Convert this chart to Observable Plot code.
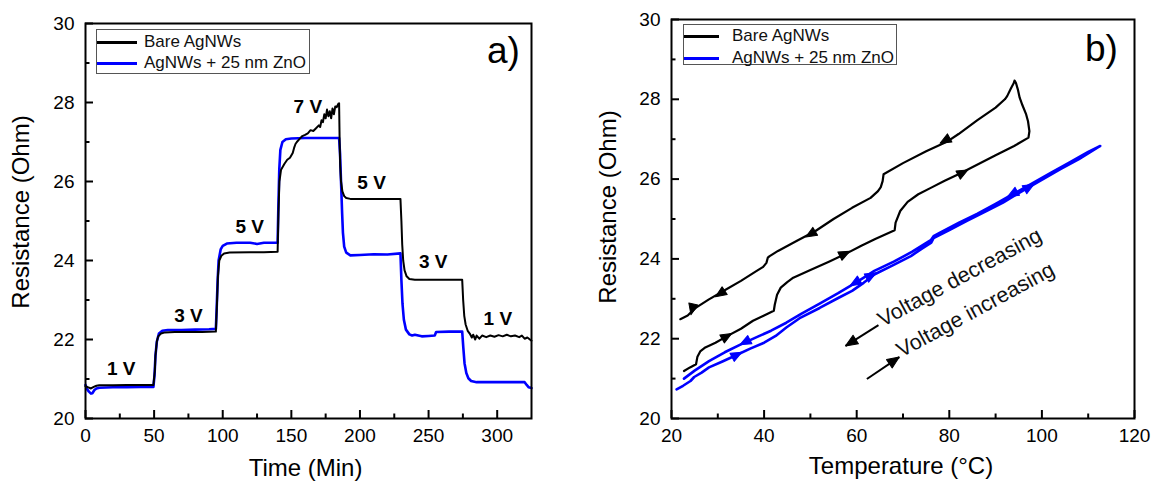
<!DOCTYPE html>
<html><head><meta charset="utf-8">
<script src="https://cdn.jsdelivr.net/npm/d3@7"></script>
<script src="https://cdn.jsdelivr.net/npm/@observablehq/plot@0.6"></script>
<style>
body{margin:0;background:#fff;}
#wrap{position:relative;width:1156px;height:486px;overflow:hidden;font-family:"Liberation Sans",Arial,sans-serif;}
#wrap svg{position:absolute;top:0;}
.legend{position:absolute;border:1px solid #555;background:#fff;box-sizing:border-box;}
.row{position:absolute;left:0;height:20px;display:flex;align-items:center;font-size:17px;white-space:nowrap;color:#111;}
.sw{display:inline-block;height:3px;}
</style></head><body><div id="wrap"></div>
<script>
// ---------- Panel a) : resistance vs time ----------
const seriesNames = ["Bare AgNWs", "AgNWs + 25 nm ZnO"];
const seriesColors = ["#000000", "#0000ff"];

const bareTime = [0,2,4,6,8,10,15,20,30,40,49.5,
  50.5,51,52,53,55,58,65,75,85,95,
  95.8,96.5,97.5,99,101,105,120,130,140,
  140.6,141.3,142.5,145,147,149,151,152,153,154,156,158,160,162,164,166,168,170,171,172,173,174,175,176,177,178,179,180,181,182,183,184.3,184.8,
  185.2,185.6,186.2,187.2,188.5,190,193,200,210,220,229.5,
  230.2,230.8,231.5,232.5,234,236,240,250,260,274.5,
  275.2,276,277,278.5,280,281.5,282.5,284,285,287,289,292,295,298,301,304,307,310,313,316,318,320,322,325];
const bareRes = [20.82,20.79,20.76,20.8,20.83,20.84,20.84,20.84,20.85,20.85,20.85,
  21.2,21.6,21.95,22.08,22.15,22.18,22.19,22.19,22.19,22.2,
  22.9,23.6,24.0,24.12,24.18,24.2,24.21,24.21,24.22,
  25.2,26.0,26.3,26.45,26.55,26.6,26.72,26.85,26.95,27.0,27.08,27.15,27.18,27.22,27.3,27.28,27.35,27.42,27.38,27.55,27.5,27.7,27.6,27.82,27.65,27.78,27.6,27.85,27.7,27.9,27.88,27.97,27.98,
  27.0,26.4,26.0,25.75,25.63,25.58,25.56,25.56,25.56,25.56,25.56,
  25.0,24.4,24.0,23.75,23.6,23.53,23.51,23.51,23.51,23.51,
  23.0,22.6,22.38,22.22,22.15,22.05,22.12,22.0,22.1,22.02,22.1,22.06,22.1,22.07,22.11,22.08,22.12,22.08,22.1,22.06,22.1,22.02,22.05,21.97];

const znoTime = [0,1,2.5,4,5,6.5,8,10,20,30,40,49.5,
  50.3,51,52,53.5,56,60,70,80,90,95,
  95.6,96.3,97,98.5,100,103,110,120,125,130,140,
  140.5,141.2,142,143.5,146,150,160,170,180,184.8,
  185.5,186.2,187,187.6,188.5,190,193,200,210,220,229.5,
  230.2,231,232,233.5,236,238,240,245,250,254.5,255.5,265,274.5,
  275.3,276.2,277.5,279,281,285,295,310,320,321.5,323,325];
const znoRes = [20.85,20.75,20.68,20.63,20.64,20.72,20.76,20.78,20.79,20.79,20.8,20.8,
  21.1,21.6,21.95,22.15,22.22,22.24,22.24,22.25,22.26,22.27,
  22.8,23.5,24.0,24.28,24.37,24.43,24.45,24.45,24.42,24.45,24.45,
  25.3,26.3,26.8,27.0,27.07,27.09,27.1,27.1,27.1,27.1,
  26.7,26.0,25.2,24.7,24.35,24.2,24.13,24.14,24.16,24.15,24.18,
  23.5,22.9,22.5,22.25,22.13,22.1,22.12,22.08,22.09,22.1,22.19,22.2,22.2,
  21.8,21.4,21.15,21.02,20.95,20.92,20.92,20.92,20.92,20.85,20.79,20.77];

const voltLabels = ["1 V","3 V","5 V","7 V","5 V","3 V","1 V"];
const voltTime   = [26, 75, 119.7, 162, 208.5, 253.4, 300.5];
const voltRes    = [21.25, 22.6, 24.84, 27.89, 25.97, 23.97, 22.51];

const timeTicks = [0,50,100,150,200,250,300];
const timeMinor = [25,75,125,175,225,275];
const resTicks = [20,22,24,26,28,30];
const resMinor = [21,23,25,27,29];

// ---------- Panel b) : resistance vs temperature ----------
const bareTemp = [22.7,24.0,25.3,25.6,26.2,27.3,29.5,32.1,35,37.6,40,42.1,42.3,42.8,43.6,45,46.3,50,54,57.5,61,64,68.2,68.4,69.4,71,73.3,76,79,82.1,86,90,94,97.1,
  97.3,97.0,96.6,95.8,95.2,94.8,94.4,94.1,93.9,
  93.3,92.5,92,90,86,82,79.7,75,70,65.8,65.6,65.2,64.6,63,59,55,51.1,47,43,41.2,40.8,40.5,39.8,38.4,35,31.3,28,25.3,24.1,23.5,21.9];
const bareResT = [21.19,21.28,21.36,21.55,21.68,21.78,21.9,22.07,22.25,22.45,22.58,22.7,22.85,23.1,23.28,23.42,23.53,23.72,23.93,24.12,24.33,24.5,24.72,24.91,25.2,25.43,25.62,25.78,25.96,26.13,26.36,26.6,26.83,27.04,
  27.2,27.45,27.62,27.85,28.04,28.25,28.41,28.47,28.4,
  28.27,28.08,28.0,27.79,27.47,27.13,26.95,26.7,26.4,26.12,25.95,25.8,25.7,25.53,25.28,25.0,24.7,24.45,24.2,24.07,24.03,23.9,23.8,23.7,23.45,23.2,22.98,22.78,22.65,22.58,22.49];

const znoTemp = [21.1,22.5,24.1,24.9,26.5,28.1,31,34.4,37,40,42.5,44.8,47.9,52,56,59,61.5,63.8,68,71.7,74,76.1,76.6,80,83.7,88,91.6,95,99.5,104,108,112.6,
  110,106,102,98,94,90,86,82,78,76.6,76,72,68,63.8,60,56,52,48,44.8,41.5,38.4,35.2,31.5,28.1,25,22.7];
const znoResT = [20.73,20.82,20.94,21.04,21.15,21.28,21.43,21.61,21.75,21.9,22.07,22.28,22.53,22.77,23.02,23.2,23.4,23.61,23.85,24.07,24.25,24.41,24.52,24.72,24.95,25.2,25.41,25.65,25.95,26.25,26.5,26.83,
  26.68,26.42,26.16,25.9,25.64,25.38,25.13,24.9,24.66,24.57,24.47,24.18,23.93,23.7,23.42,23.14,22.88,22.62,22.4,22.2,22.04,21.87,21.66,21.44,21.2,21.0];

// direction arrows on the loops (tail -> head)
const bareArrowT1 = [81.5, 52.5, 33.0, 24.7, 29.5, 55.0, 80.5];
const bareArrowR1 = [27.12, 24.79, 23.32, 22.86, 21.90, 23.99, 26.01];
const bareArrowT2 = [78.0, 49.0, 29.5, 24.2, 33.0, 58.5, 84.0];
const bareArrowR2 = [26.90, 24.55, 23.05, 22.60, 22.13, 24.19, 26.23];
const znoArrowT1 = [38.0, 32.0, 62.0, 61.0, 96.0, 95.0];
const znoArrowR1 = [22.04, 21.47, 23.56, 23.45, 25.78, 25.65];
const znoArrowT2 = [34.8, 35.2, 58.6, 64.2, 92.6, 98.3];
const znoArrowR2 = [21.85, 21.66, 23.33, 23.65, 25.56, 25.87];

// annotation arrows + texts
const noteTexts = ["Voltage decreasing", "Voltage increasing"];
const noteT = [65.6, 69.7];
const noteR = [22.29, 21.52];
const noteArrowT1 = [64.7, 62.2];
const noteArrowR1 = [22.34, 20.99];
const noteArrowT2 = [57.6, 69.2];
const noteArrowR2 = [21.82, 21.54];

const tempTicks = [20,40,60,80,100,120];
const tempMinor = [30,50,70,90,110];

// ---------- build ----------
const zip2 = (a, b) => a.map((v, i) => ({x: v, y: b[i]}));
const zip4 = (a, b, c, d) => a.map((v, i) => ({x1: v, y1: b[i], x2: c[i], y2: d[i]}));

const FONT = '"Liberation Sans", Arial, Helvetica, sans-serif';
const baseStyle = {fontFamily: FONT, fontSize: "19px", color: "#000", background: "transparent"};

// inward tick marks as short rules; their length is converted from pixels through the scales
function axes(frameOpts, xT, xM, yT, yM) {
  const probe = Plot.plot({...frameOpts, marks: [Plot.frame()]});
  const xs = probe.scale("x"), ys = probe.scale("y");
  const x0 = frameOpts.x.domain[0], y0 = frameOpts.y.domain[0];
  const xIn = (px) => xs.invert(xs.apply(x0) + px);
  const yIn = (px) => ys.invert(ys.apply(y0) - px);
  return [
    Plot.axisX({ticks: xT, tickSize: 0, tickPadding: 10, tickFormat: d => String(d), label: null, fontSize: 19}),
    Plot.axisY({ticks: yT, tickSize: 0, tickPadding: 11, tickFormat: d => String(d), label: null, fontSize: 19}),
    Plot.ruleX(xT, {x: d => d, y1: y0, y2: yIn(8), stroke: "#000", strokeWidth: 2}),
    Plot.ruleX(xM, {x: d => d, y1: y0, y2: yIn(4.5), stroke: "#000", strokeWidth: 2}),
    Plot.ruleY(yT, {y: d => d, x1: x0, x2: xIn(8), stroke: "#000", strokeWidth: 2}),
    Plot.ruleY(yM, {y: d => d, x1: x0, x2: xIn(4.5), stroke: "#000", strokeWidth: 2})
  ];
}

const leftFrame = {
  width: 580, height: 486,
  marginLeft: 85, marginRight: 49, marginTop: 23, marginBottom: 68,
  x: {domain: [0, 325]},
  y: {domain: [20, 30]},
  style: baseStyle
};
const left = Plot.plot({
  ...leftFrame,
  marks: [
    Plot.line(zip2(znoTime, znoRes), {x: "x", y: "y", stroke: seriesColors[1], strokeWidth: 2.6}),
    Plot.line(zip2(bareTime, bareRes), {x: "x", y: "y", stroke: seriesColors[0], strokeWidth: 2}),
    Plot.text(voltLabels.map((t, i) => ({t, x: voltTime[i], y: voltRes[i]})), {x: "x", y: "y", text: "t", fontWeight: "bold", fontSize: 19, lineAnchor: "middle"}),
    Plot.frame({strokeWidth: 2}),
    ...axes(leftFrame, timeTicks, timeMinor, resTicks, resMinor),
    Plot.text(["Resistance (Ohm)"], {frameAnchor: "left", dx: -64, dy: -9, rotate: -90, fontSize: 24, lineAnchor: "middle", textAnchor: "middle"}),
    Plot.text(["Time (Min)"], {frameAnchor: "bottom", dx: -3, dy: 50, fontSize: 24, lineAnchor: "middle", textAnchor: "middle"}),
    Plot.text(["a)"], {frameAnchor: "top-right", dx: -28, dy: 28, fontSize: 37, lineAnchor: "middle", textAnchor: "middle"})
  ]
});
left.style.left = "0px";

const rightFrame = {
  width: 576, height: 486,
  marginLeft: 91, marginRight: 22, marginTop: 19, marginBottom: 68,
  x: {domain: [20, 120]},
  y: {domain: [20, 30]},
  style: baseStyle
};
// probe the scales so that arrowheads can be oriented along the drawn curves
const probe = Plot.plot({...rightFrame, marks: [Plot.frame()]});
const xs = probe.scale("x"), ys = probe.scale("y");
function headData(t1, r1, t2, r2) {
  return t1.map((_, i) => {
    const dx = xs.apply(t2[i]) - xs.apply(t1[i]);
    const dy = ys.apply(r2[i]) - ys.apply(r1[i]);
    return {x: t2[i], y: r2[i], a: Math.atan2(dx, -dy) * 180 / Math.PI};
  });
}
const triangle = {draw(context, l) {
  const w = l * 0.42;
  context.moveTo(0, -l); context.lineTo(w, 0); context.lineTo(-w, 0); context.closePath();
}};
function heads(t1, r1, t2, r2, color, len) {
  return Plot.vector(headData(t1, r1, t2, r2), {x: "x", y: "y", rotate: "a", length: len, anchor: "end", shape: triangle, fill: color, stroke: color, strokeWidth: 1});
}
function arrowsFallback(t1, r1, t2, r2, color, w) {
  return Plot.arrow(zip4(t1, r1, t2, r2), {x1: "x1", y1: "y1", x2: "x2", y2: "y2", stroke: color, strokeWidth: w, headLength: 9, headAngle: 70});
}

function rightMarks(useVector) {
  return [
    Plot.line(zip2(bareTemp, bareResT), {x: "x", y: "y", stroke: seriesColors[0], strokeWidth: 2.2}),
    Plot.line(zip2(znoTemp, znoResT), {x: "x", y: "y", stroke: seriesColors[1], strokeWidth: 2.6}),
    Plot.link(zip4(noteArrowT1, noteArrowR1, noteArrowT2, noteArrowR2), {x1: "x1", y1: "y1", x2: "x2", y2: "y2", stroke: "#000", strokeWidth: 2}),
    ...(useVector ? [
      heads(bareArrowT1, bareArrowR1, bareArrowT2, bareArrowR2, seriesColors[0], 11),
      heads(znoArrowT1, znoArrowR1, znoArrowT2, znoArrowR2, seriesColors[1], 11),
      heads(noteArrowT1, noteArrowR1, noteArrowT2, noteArrowR2, "#000", 12)
    ] : [
      arrowsFallback(bareArrowT1, bareArrowR1, bareArrowT2, bareArrowR2, seriesColors[0], 3),
      arrowsFallback(znoArrowT1, znoArrowR1, znoArrowT2, znoArrowR2, seriesColors[1], 3),
      arrowsFallback(noteArrowT1, noteArrowR1, noteArrowT2, noteArrowR2, "#000", 2)
    ]),
    Plot.text(noteTexts.map((t, i) => ({t, x: noteT[i], y: noteR[i]})), {x: "x", y: "y", text: "t", rotate: -28.5, textAnchor: "start", lineAnchor: "bottom", fontSize: 21.5, fill: "#111"}),
    Plot.frame({strokeWidth: 2}),
    ...axes(rightFrame, tempTicks, tempMinor, resTicks, resMinor),
    Plot.text(["Resistance (Ohm)"], {frameAnchor: "left", dx: -63, dy: -12, rotate: -90, fontSize: 24, lineAnchor: "middle", textAnchor: "middle"}),
    Plot.text(["Temperature (°C)"], {frameAnchor: "bottom", dx: -2, dy: 48, fontSize: 24, lineAnchor: "middle", textAnchor: "middle"}),
    Plot.text(["b)"], {frameAnchor: "top-right", dx: -33, dy: 30, fontSize: 37, lineAnchor: "middle", textAnchor: "middle"})
  ];
}
let right;
try { right = Plot.plot({...rightFrame, marks: rightMarks(true)}); }
catch (e) { right = Plot.plot({...rightFrame, marks: rightMarks(false)}); }
right.style.left = "580px";

const wrap = document.getElementById("wrap");
wrap.appendChild(left);
wrap.appendChild(right);

// legends (HTML overlays inside each frame)
function legend(box, swWidth, textLeft, rowTops) {
  const d = document.createElement("div");
  d.className = "legend";
  Object.assign(d.style, {left: box[0] + "px", top: box[1] + "px", width: box[2] + "px", height: box[3] + "px"});
  seriesNames.forEach((name, i) => {
    const r = document.createElement("div");
    r.className = "row";
    r.style.top = rowTops[i] + "px";
    const s = document.createElement("span");
    s.className = "sw";
    Object.assign(s.style, {width: swWidth + "px", background: seriesColors[i]});
    const t = document.createElement("span");
    t.textContent = name;
    t.style.marginLeft = (textLeft - swWidth) + "px";
    r.appendChild(s); r.appendChild(t);
    d.appendChild(r);
  });
  wrap.appendChild(d);
}
legend([96, 29, 214, 45], 40, 47, [2, 23]);
legend([683, 24, 214, 41], 35, 48, [1, 23]);
</script></body></html>
